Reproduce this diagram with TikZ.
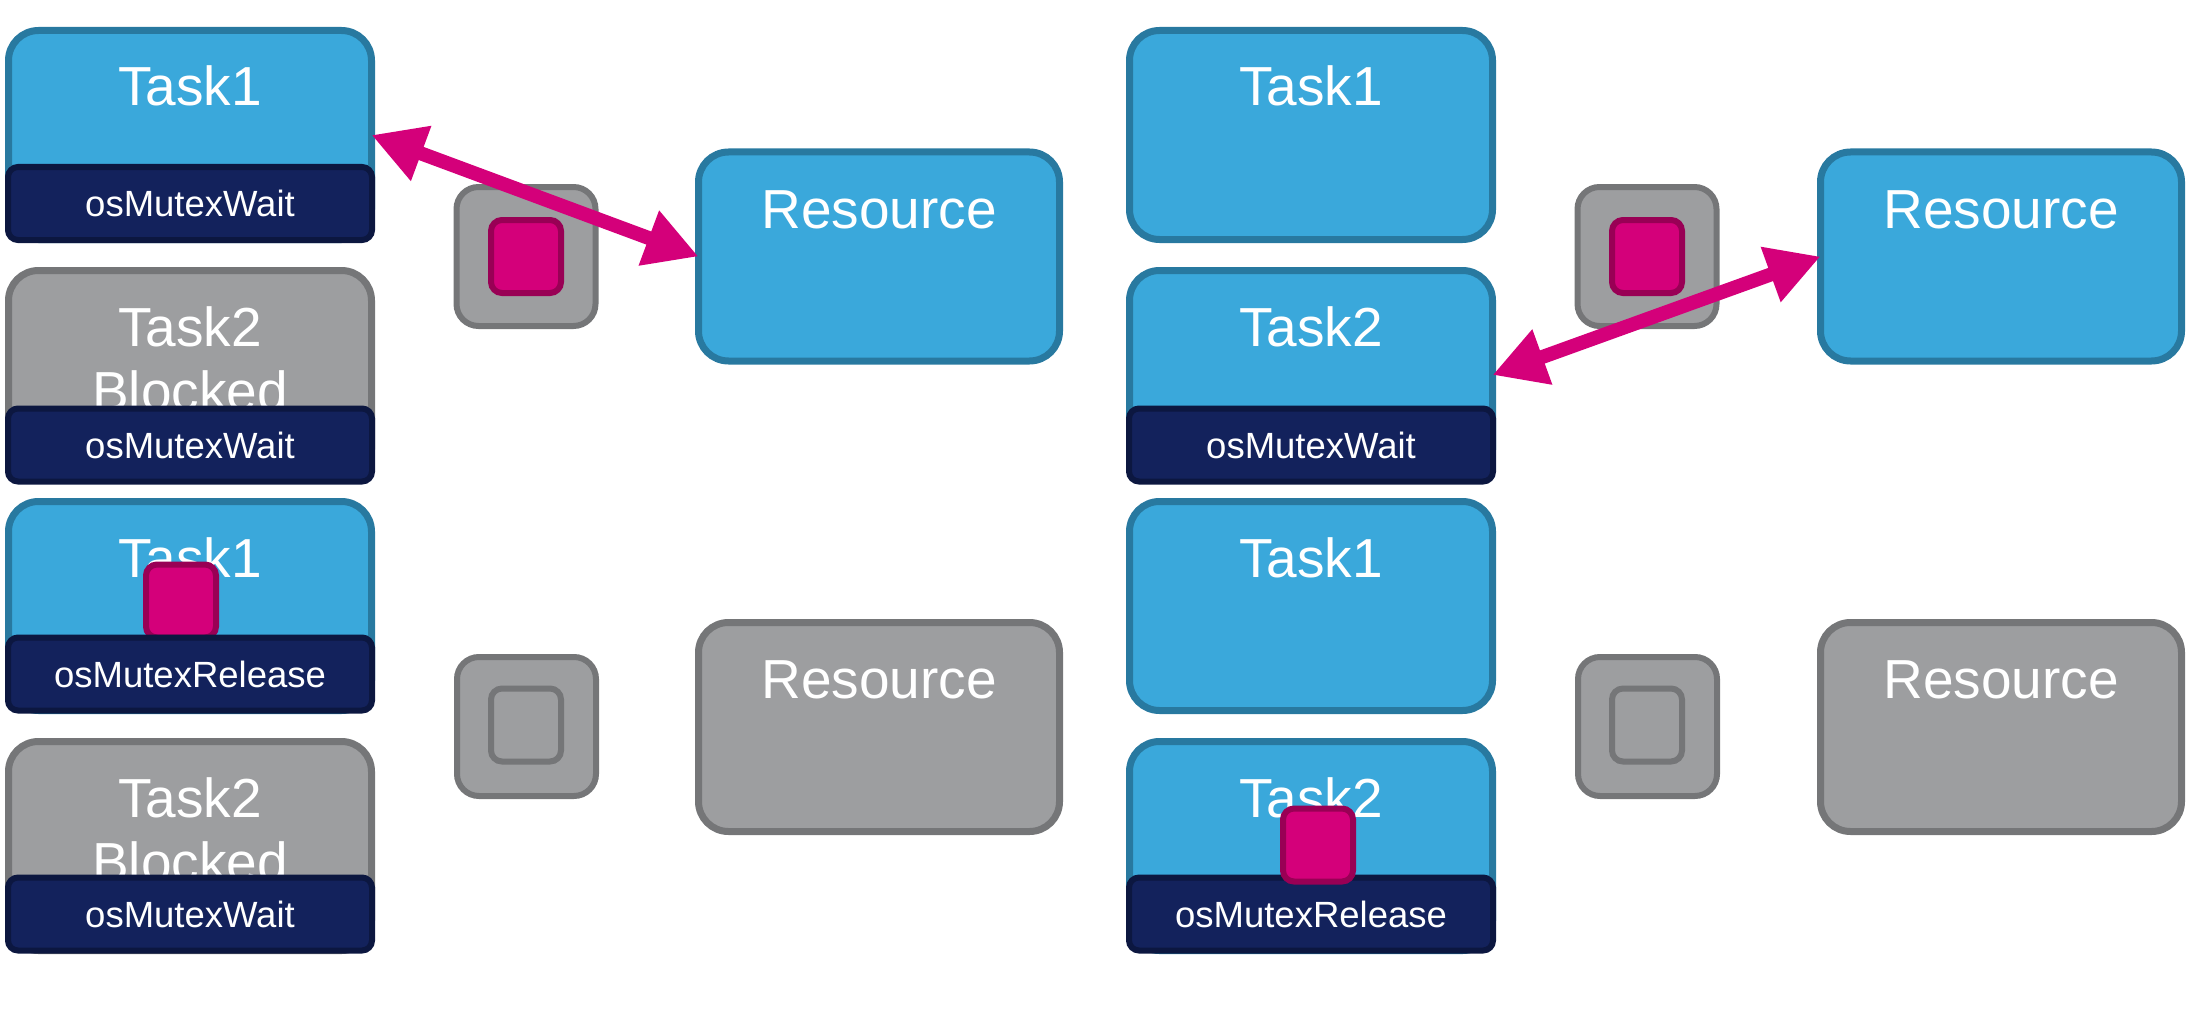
\documentclass[tikz,border=0pt]{standalone}
\usepackage{fontspec}
\setmainfont{Liberation Sans}
\usetikzlibrary{arrows.meta}
\definecolor{bfill}{RGB}{58,168,219}
\definecolor{bline}{RGB}{40,121,160}
\definecolor{nfill}{RGB}{19,34,92}
\definecolor{nline}{RGB}{12,23,64}
\definecolor{gfill}{RGB}{157,158,160}
\definecolor{gline}{RGB}{117,118,120}
\definecolor{mfill}{RGB}{212,0,122}
\definecolor{mline}{RGB}{153,0,85}
\tikzset{
  boxbase/.style={rounded corners=30pt, line width=7pt, inner sep=0pt, outer sep=0pt,
    minimum width=363pt, minimum height=209pt},
  bluebox/.style={boxbase, fill=bfill, draw=bline},
  greybox/.style={boxbase, fill=gfill, draw=gline},
  resbox/.style={boxbase, minimum width=361pt},
  title/.style={anchor=base, text=white, inner sep=0pt, font=\fontsize{55}{64}\selectfont},
  barbox/.style={rounded corners=10pt, line width=6pt, fill=nfill, draw=nline,
    inner sep=0pt, outer sep=0pt, minimum width=364pt, minimum height=73pt,
    text=white, font=\fontsize{36.5}{42}\selectfont},
  mutexbox/.style={rounded corners=22pt, line width=6pt, fill=gfill, draw=gline,
    inner sep=0pt, outer sep=0pt, minimum width=139pt, minimum height=139pt},
  chipon/.style={rounded corners=11pt, line width=6pt, fill=mfill, draw=mline,
    inner sep=0pt, outer sep=0pt, minimum width=70pt, minimum height=73pt},
  chipoff/.style={chipon, fill=gfill, draw=gline},
  marrow/.style={line width=14pt, draw=mfill, fill=mfill,
    {Triangle[length=53pt,width=55pt]}-{Triangle[length=53pt,width=55pt]}}
}
\begin{document}
\begin{tikzpicture}[x=1pt,y=-1pt]
\useasboundingbox (0,0) rectangle (2190,1014);

% ===== Left panel =====
% Task1 (top)
\node[bluebox] (L1) at (190,135) {};
\node[title] (L1t) at (190,106) {Task1};
\node[barbox] (L1b) at (190,203.5) {osMutexWait};
% Task2 blocked
\node[greybox] (L2) at (190,375) {};
\node[title] (L2t) at (190,346) {Task2};
\node[title] (L2s) at (190,410) {Blocked};
\node[barbox] (L2b) at (190,445) {osMutexWait};
% Task1 release
\node[bluebox] (L3) at (190,606) {};
\node[title] (L3t) at (190,577) {Task1};
\node[chipon] (L3c) at (181,601) {};
\node[barbox] (L3b) at (190,674) {osMutexRelease};
% Task2 blocked
\node[greybox] (L4) at (190,846) {};
\node[title] (L4t) at (190,817) {Task2};
\node[title] (L4s) at (190,881) {Blocked};
\node[barbox] (L4b) at (190,914) {osMutexWait};

% mutexes
\node[mutexbox] (LM1) at (526,256.5) {};
\node[chipon] (LM1c) at (526,256.5) {};
\node[mutexbox] (LM2) at (526.5,726.5) {};
\node[chipoff] (LM2c) at (526,725) {};

% resources
\node[resbox, fill=bfill, draw=bline] (LR1) at (879,256.5) {};
\node[title] (LR1t) at (879,228) {Resource};
\node[resbox, fill=gfill, draw=gline] (LR2) at (879,727) {};
\node[title] (LR2t) at (879,698) {Resource};

\draw[marrow] (L1.east) -- (LR1.west);

% ===== Right panel =====
\node[bluebox] (R1) at (1311,135) {};
\node[title] (R1t) at (1311,106) {Task1};
\node[bluebox] (R2) at (1311,375) {};
\node[title] (R2t) at (1311,346) {Task2};
\node[barbox] (R2b) at (1311,445) {osMutexWait};
\node[bluebox] (R3) at (1311,606) {};
\node[title] (R3t) at (1311,577) {Task1};
\node[bluebox] (R4) at (1311,846) {};
\node[title] (R4t) at (1311,817) {Task2};
\node[barbox] (R4b) at (1311,914) {osMutexRelease};
\node[chipon] (R4c) at (1318,845) {};

\node[mutexbox] (RM1) at (1647,256.5) {};
\node[chipon] (RM1c) at (1647,256.5) {};
\node[mutexbox] (RM2) at (1647.5,726.5) {};
\node[chipoff] (RM2c) at (1647,725) {};

\node[resbox, fill=bfill, draw=bline] (RR1) at (2001,256.5) {};
\node[title] (RR1t) at (2001,228) {Resource};
\node[resbox, fill=gfill, draw=gline] (RR2) at (2001,727) {};
\node[title] (RR2t) at (2001,698) {Resource};

\draw[marrow] (R2.east) -- (RR1.west);
\end{tikzpicture}
\end{document}
